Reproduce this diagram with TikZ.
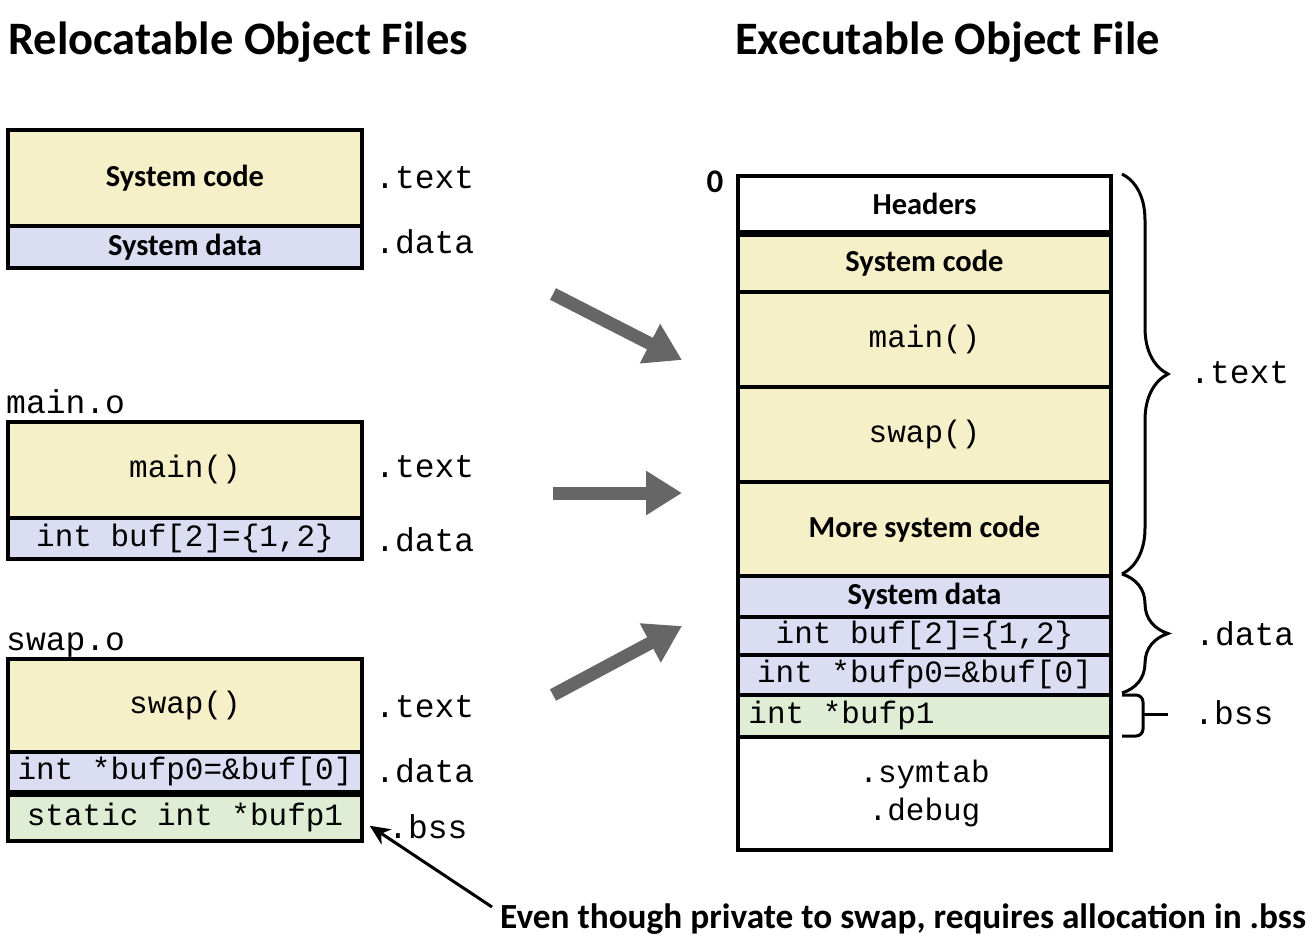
\documentclass[tikz,border=0pt]{standalone}
\usepackage{fontspec}
\setmainfont{Carlito}
\setmonofont{Liberation Mono}
\usetikzlibrary{arrows.meta,decorations.pathreplacing}

\definecolor{codefill}{RGB}{245,240,200}
\definecolor{datafill}{RGB}{219,221,243}
\definecolor{bssfill}{RGB}{222,237,212}
\definecolor{arrowgray}{RGB}{102,102,102}

\newcommand{\boxfont}{\fontsize{30.5}{36}\selectfont\bfseries}
\newcommand{\codefont}{\fontsize{31}{38}\selectfont\ttfamily}
\newcommand{\lblfont}{\fontsize{33}{38}\selectfont\ttfamily}

\tikzset{
  sec/.style={draw, line width=3.5pt, inner sep=0pt, anchor=north, align=center},
  lsec/.style={sec, minimum width=354pt},
  rsec/.style={sec, minimum width=373pt},
  codesec/.style={fill=codefill},
  datasec/.style={fill=datafill},
  bsssec/.style={fill=bssfill},
  seclabel/.style={anchor=base west, inner sep=0pt, font=\lblfont},
  bigarrow/.style={draw=arrowgray, line width=13pt, -{Triangle[length=36pt,width=42pt]}},
  segbrace/.style={decorate, decoration={brace, amplitude=#1}, line width=3pt},
}

\begin{document}
\begin{tikzpicture}[x=1pt, y=-1pt]
  \useasboundingbox (0,0) rectangle (1316,946);

  % titles
  \node[anchor=west, inner sep=0pt, font=\fontsize{46.5}{50}\selectfont\bfseries] (reltitle) at (8,42) {Relocatable Object Files};
  \node[anchor=west, inner sep=0pt, font=\fontsize{46.5}{50}\selectfont\bfseries] (exetitle) at (735,42) {Executable Object File};

  % system object
  \node[lsec, codesec, minimum height=96pt, font=\boxfont] (syscode) at (185,128) {System code};
  \node[lsec, datasec, minimum height=42pt, font=\boxfont] (sysdata) at (185,224) {System data};
  \node[seclabel] (systext) at (375,188) {.text};
  \node[seclabel] (sysdat) at (375,253) {.data};

  % main.o
  \node[anchor=base west, inner sep=0pt, font=\lblfont] (mainname) at (6,413) {main.o};
  \node[lsec, codesec, minimum height=96pt, font=\codefont] (mainfn) at (185,420) {main()};
  \node[lsec, datasec, minimum height=41pt, font=\codefont] (bufdata) at (185,516) {int buf[2]=\{1,2\}};
  \node[seclabel] (maintext) at (375,477) {.text};
  \node[seclabel] (maindat) at (375,551) {.data};

  % swap.o
  \node[anchor=base west, inner sep=0pt, font=\lblfont] (swapname) at (6,650) {swap.o};
  \node[lsec, codesec, minimum height=93pt, font=\codefont] (swapfn) at (185,657) {swap()};
  \node[lsec, datasec, minimum height=40pt, font=\codefont] (bufpdata) at (185,750) {int *bufp0=\&buf[0]};
  \node[lsec, bsssec, minimum height=46pt, font=\codefont] (bufpbss) at (185,793) {static int *bufp1};
  \node[seclabel] (swaptext) at (375,717) {.text};
  \node[seclabel] (swapdat) at (375,782) {.data};
  \node[seclabel] (swapbss) at (388,838) {.bss};

  % executable
  \node[anchor=center, inner sep=0pt, font=\fontsize{33}{36}\selectfont\bfseries] (zero) at (715,182) {0};
  \node[rsec, fill=white, minimum height=56pt, font=\boxfont] (hdr) at (924.5,174) {Headers};
  \node[rsec, codesec, minimum height=57pt, font=\boxfont] (rsyscode) at (924.5,233) {System code};
  \node[rsec, codesec, minimum height=95pt, font=\codefont] (rmain) at (924.5,290) {main()};
  \node[rsec, codesec, minimum height=95pt, font=\codefont] (rswap) at (924.5,385) {swap()};
  \node[rsec, codesec, minimum height=94pt, font=\boxfont] (rmore) at (924.5,480) {More system code};
  \node[rsec, datasec, minimum height=41pt, font=\boxfont] (rsysdata) at (924.5,574) {System data};
  \node[rsec, datasec, minimum height=38pt, font=\codefont] (rbuf) at (924.5,615) {int buf[2]=\{1,2\}};
  \node[rsec, datasec, minimum height=40pt, font=\codefont] (rbufp) at (924.5,653) {int *bufp0=\&buf[0]};
  \node[rsec, bsssec, minimum height=42pt] (rbss) at (924.5,693) {};
  \node[anchor=west, inner sep=0pt, font=\codefont] (rbsstext) at ([xshift=12pt]rbss.west) {int *bufp1};
  \node[rsec, fill=white, minimum height=113pt, font=\codefont] (rsym) at (924.5,735) {.symtab\\.debug};

  % segment braces
  \coordinate (textA) at (1122,174);
  \coordinate (textB) at (1122,574);
  \coordinate (dataB) at (1122,693);
  \coordinate (bssB) at (1122,735);
  \draw[segbrace=46pt] (textA) -- (textB);
  \draw[segbrace=46pt] (textB) -- (dataB);
  \draw[line width=3pt, rounded corners=7pt] ([yshift=-2pt]dataB) -| (1143,714) |- ([yshift=-1pt]bssB);
  \draw[line width=3pt] (1143,714) -- (1168,714);
  \node[seclabel] (rtext) at (1190,383) {.text};
  \node[seclabel] (rdata) at (1195,645) {.data};
  \node[seclabel] (rbsslbl) at (1194,724) {.bss};

  % linking arrows
  \coordinate (arrA) at (553,294);
  \coordinate (arrAend) at (682,360);
  \coordinate (arrB) at (553,493);
  \coordinate (arrBend) at (682,493);
  \coordinate (arrC) at (553,695);
  \coordinate (arrCend) at (682,626);
  \draw[bigarrow] (arrA) -- (arrAend);
  \draw[bigarrow] (arrB) -- (arrBend);
  \draw[bigarrow] (arrC) -- (arrCend);

  % note on bss
  \node[anchor=base west, inner sep=0pt, font=\fontsize{35.3}{40}\selectfont\bfseries] (note) at (500,928) {Even though private to swap, requires allocation in .bss};
  \draw[line width=3pt, -{Stealth[length=20pt,width=18pt,inset=6pt]}] ([shift={(-8pt,-4pt)}]note.north west) -- ([shift={(6pt,-8pt)}]bufpbss.east);
\end{tikzpicture}
\end{document}
